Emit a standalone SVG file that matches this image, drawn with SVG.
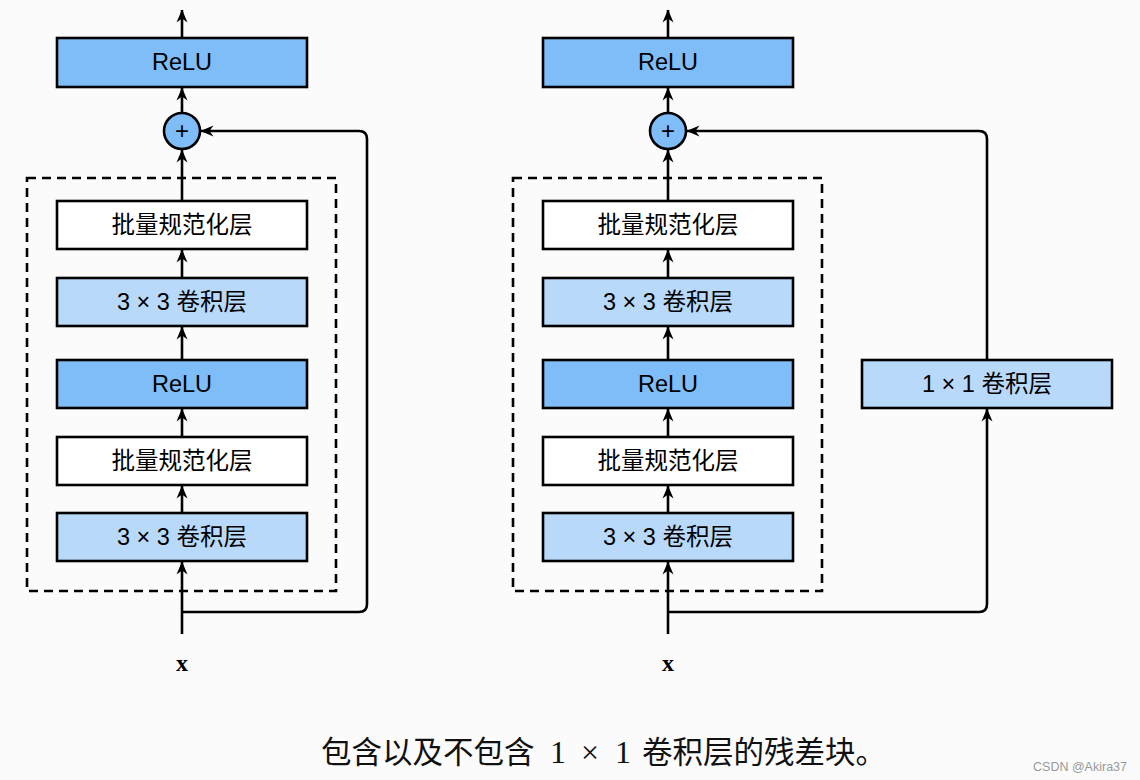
<svg xmlns="http://www.w3.org/2000/svg" width="1140" height="780" viewBox="0 0 1140 780">
<defs>
<marker id="ah" markerUnits="userSpaceOnUse" markerWidth="14" markerHeight="12" refX="12.5" refY="6" orient="auto">
<path d="M0,0.5 L13,6 L0,11.5 L4,6 z" fill="#000"/>
</marker>
<style>
.box{stroke:#000;stroke-width:2.6}
.relu{fill:#7fbdf8}
.conv{fill:#b9d9fb}
.bn{fill:#ffffff}
.lbl{font-family:"Liberation Sans","Noto Sans CJK SC",sans-serif;font-size:23.5px;text-anchor:middle;fill:#000}
.ln{fill:none;stroke:#000;stroke-width:2.6}
.dash{fill:none;stroke:#000;stroke-width:2.6;stroke-dasharray:9,6}
.x{font-family:"Liberation Serif",serif;font-weight:bold;font-size:24px;text-anchor:middle}
.cap{font-family:"Noto Sans CJK SC",sans-serif;font-size:30.5px;fill:#111}
.capm{font-family:"Liberation Serif",serif;font-size:32px;fill:#111;text-anchor:middle}
</style>
</defs>
<rect width="1140" height="780" fill="#fbfbfb"/>

<g id="left-block">
<rect class="dash" x="27" y="178" width="309" height="413"/>
</g>
<g id="right-block">
<rect class="dash" x="513" y="178" width="309" height="413"/>
</g>

<g id="connectors">
<!-- left -->
<line class="ln" x1="182" y1="38" x2="182" y2="10" marker-end="url(#ah)"/>
<line class="ln" x1="182" y1="113" x2="182" y2="88" marker-end="url(#ah)"/>
<line class="ln" x1="182" y1="201" x2="182" y2="150" marker-end="url(#ah)"/>
<line class="ln" x1="182" y1="278" x2="182" y2="250" marker-end="url(#ah)"/>
<line class="ln" x1="182" y1="360" x2="182" y2="327" marker-end="url(#ah)"/>
<line class="ln" x1="182" y1="437" x2="182" y2="409" marker-end="url(#ah)"/>
<line class="ln" x1="182" y1="513" x2="182" y2="486" marker-end="url(#ah)"/>
<line class="ln" x1="182" y1="634" x2="182" y2="562" marker-end="url(#ah)"/>
<path class="ln" d="M182,612 H359 Q367,612 367,604 V139 Q367,131 359,131 H201" marker-end="url(#ah)"/>
<!-- right -->
<line class="ln" x1="668" y1="38" x2="668" y2="10" marker-end="url(#ah)"/>
<line class="ln" x1="668" y1="113" x2="668" y2="88" marker-end="url(#ah)"/>
<line class="ln" x1="668" y1="201" x2="668" y2="150" marker-end="url(#ah)"/>
<line class="ln" x1="668" y1="278" x2="668" y2="250" marker-end="url(#ah)"/>
<line class="ln" x1="668" y1="360" x2="668" y2="327" marker-end="url(#ah)"/>
<line class="ln" x1="668" y1="437" x2="668" y2="409" marker-end="url(#ah)"/>
<line class="ln" x1="668" y1="513" x2="668" y2="486" marker-end="url(#ah)"/>
<line class="ln" x1="668" y1="634" x2="668" y2="562" marker-end="url(#ah)"/>
<path class="ln" d="M668,612 H979 Q987,612 987,604 V409" marker-end="url(#ah)"/>
<path class="ln" d="M987,360 V139 Q987,131 979,131 H687" marker-end="url(#ah)"/>
</g>

<!-- left nodes -->
<g id="l-relu-top"><rect class="box relu" x="57" y="38" width="250" height="49"/><text class="lbl" x="182" y="70">ReLU</text></g>
<g id="l-add"><circle class="box relu" cx="182" cy="131" r="18"/><text class="lbl" x="182" y="139" style="font-size:24px">+</text></g>
<g id="l-bn2"><rect class="box bn" x="57" y="201" width="250" height="48"/><text class="lbl" x="182" y="233">批量规范化层</text></g>
<g id="l-conv2"><rect class="box conv" x="57" y="278" width="250" height="48"/><text class="lbl" x="182" y="310">3 × 3 卷积层</text></g>
<g id="l-relu"><rect class="box relu" x="57" y="360" width="250" height="48"/><text class="lbl" x="182" y="392">ReLU</text></g>
<g id="l-bn1"><rect class="box bn" x="57" y="437" width="250" height="48"/><text class="lbl" x="182" y="469">批量规范化层</text></g>
<g id="l-conv1"><rect class="box conv" x="57" y="513" width="250" height="48"/><text class="lbl" x="182" y="545">3 × 3 卷积层</text></g>
<g id="l-x"><text class="x" x="182" y="671">x</text></g>

<!-- right nodes -->
<g id="r-relu-top"><rect class="box relu" x="543" y="38" width="250" height="49"/><text class="lbl" x="668" y="70">ReLU</text></g>
<g id="r-add"><circle class="box relu" cx="668" cy="131" r="18"/><text class="lbl" x="668" y="139" style="font-size:24px">+</text></g>
<g id="r-bn2"><rect class="box bn" x="543" y="201" width="250" height="48"/><text class="lbl" x="668" y="233">批量规范化层</text></g>
<g id="r-conv2"><rect class="box conv" x="543" y="278" width="250" height="48"/><text class="lbl" x="668" y="310">3 × 3 卷积层</text></g>
<g id="r-relu"><rect class="box relu" x="543" y="360" width="250" height="48"/><text class="lbl" x="668" y="392">ReLU</text></g>
<g id="r-bn1"><rect class="box bn" x="543" y="437" width="250" height="48"/><text class="lbl" x="668" y="469">批量规范化层</text></g>
<g id="r-conv1"><rect class="box conv" x="543" y="513" width="250" height="48"/><text class="lbl" x="668" y="545">3 × 3 卷积层</text></g>
<g id="r-conv1x1"><rect class="box conv" x="862" y="360" width="250" height="48"/><text class="lbl" x="987" y="392">1 × 1 卷积层</text></g>
<g id="r-x"><text class="x" x="668" y="671">x</text></g>

<g id="caption">
<text class="cap" x="321" y="763">包含以及不包含</text>
<text class="capm" x="558" y="763">1</text>
<text class="capm" x="590" y="763">×</text>
<text class="capm" x="623" y="763">1</text>
<text class="cap" x="642" y="763">卷积层的残差块。</text>
<text x="1127" y="771" style="font-family:'Liberation Sans',sans-serif;font-size:12.5px;fill:#999;text-anchor:end">CSDN @Akira37</text>
</g>
</svg>
